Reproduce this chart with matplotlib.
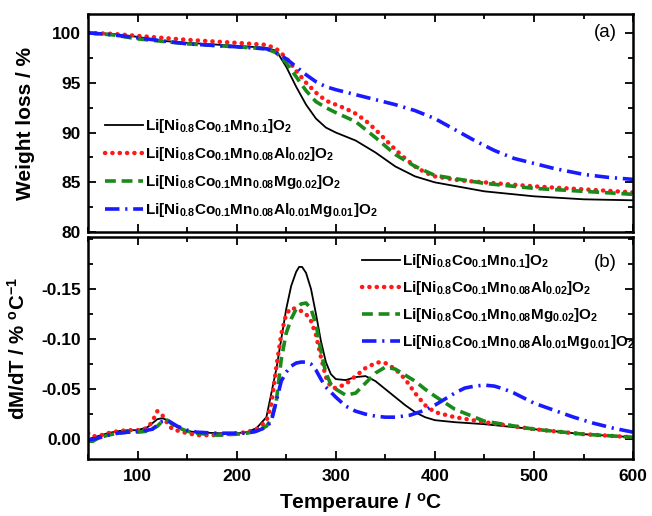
import matplotlib
matplotlib.use("Agg")
import matplotlib.pyplot as plt
from matplotlib.ticker import MultipleLocator, FormatStrFormatter

plt.rcParams['font.family'] = ['Liberation Sans', 'DejaVu Sans']
plt.rcParams['mathtext.fontset'] = 'custom'
plt.rcParams['mathtext.rm'] = 'Liberation Sans:bold'
plt.rcParams['mathtext.it'] = 'Liberation Sans:bold'
plt.rcParams['mathtext.bf'] = 'Liberation Sans:bold'

labels = [r'Li[Ni$_{0.8}$Co$_{0.1}$Mn$_{0.1}$]O$_2$',
          r'Li[Ni$_{0.8}$Co$_{0.1}$Mn$_{0.08}$Al$_{0.02}$]O$_2$',
          r'Li[Ni$_{0.8}$Co$_{0.1}$Mn$_{0.08}$Mg$_{0.02}$]O$_2$',
          r'Li[Ni$_{0.8}$Co$_{0.1}$Mn$_{0.08}$Al$_{0.01}$Mg$_{0.01}$]O$_2$']

# ---- TGA (weight loss) ----
tga_T_black = [50, 75, 100, 125, 150, 200, 230, 240, 250, 260, 270, 280, 290, 300, 320, 340, 360, 380, 400, 450, 500, 550, 600]
tga_black = [100.0, 99.9, 99.6, 99.2, 99.0, 98.7, 98.5, 98.2, 96.6, 94.6, 92.8, 91.4, 90.5, 90.0, 89.2, 88.0, 86.6, 85.6, 85.0, 84.1, 83.6, 83.3, 83.2]

tga_T_red = [50, 75, 100, 150, 200, 230, 240, 250, 260, 270, 280, 290, 300, 310, 320, 330, 340, 350, 360, 370, 380, 390, 400, 425, 450, 500, 550, 600]
tga_red = [100.0, 99.9, 99.7, 99.3, 99.0, 98.8, 98.4, 97.5, 96.2, 95.0, 94.0, 93.2, 92.8, 92.4, 91.9, 91.2, 90.3, 89.3, 88.3, 87.4, 86.6, 86.0, 85.6, 85.2, 85.0, 84.6, 84.3, 84.0]

tga_T_green = [50, 75, 100, 150, 200, 230, 240, 250, 260, 270, 280, 290, 300, 320, 340, 360, 380, 400, 450, 500, 550, 600]
tga_green = [100.0, 99.8, 99.4, 98.9, 98.6, 98.4, 98.0, 97.0, 95.6, 94.2, 93.1, 92.5, 92.0, 91.1, 89.5, 87.8, 86.6, 85.7, 84.9, 84.4, 84.1, 83.8]

tga_T_blue = [50, 75, 100, 150, 200, 230, 240, 250, 260, 270, 280, 290, 300, 320, 340, 360, 380, 400, 420, 440, 460, 480, 500, 520, 550, 575, 600]
tga_blue = [100.0, 99.8, 99.5, 98.9, 98.6, 98.4, 98.0, 97.4, 96.6, 95.8, 95.1, 94.6, 94.3, 93.8, 93.3, 92.8, 92.2, 91.4, 90.3, 89.2, 88.2, 87.4, 86.9, 86.4, 85.8, 85.5, 85.3]

# ---- DTG (dM/dT) ----
dtg_T_black = [50, 60, 70, 80, 90, 100, 110, 120, 125, 130, 140, 150, 160, 180, 200, 210, 220, 230, 240, 245, 250, 255, 260, 263, 266, 270, 275, 280, 285, 290, 295, 300, 310, 320, 330, 340, 350, 360, 370, 380, 390, 400, 420, 450, 500, 550, 600]
dtg_black = [0.000, -0.003, -0.006, -0.008, -0.009, -0.009, -0.012, -0.020, -0.021, -0.019, -0.012, -0.008, -0.007, -0.006, -0.006, -0.007, -0.011, -0.022, -0.070, -0.100, -0.130, -0.153, -0.167, -0.172, -0.172, -0.166, -0.150, -0.125, -0.098, -0.077, -0.065, -0.060, -0.059, -0.062, -0.063, -0.058, -0.050, -0.042, -0.034, -0.027, -0.022, -0.019, -0.017, -0.015, -0.010, -0.005, -0.002]

dtg_T_red = [50, 55, 60, 70, 80, 90, 100, 110, 115, 120, 125, 130, 135, 150, 160, 180, 200, 210, 220, 230, 235, 240, 245, 250, 255, 260, 265, 270, 275, 280, 285, 290, 295, 300, 310, 320, 330, 340, 345, 350, 360, 370, 380, 390, 400, 420, 450, 500, 550, 600]
dtg_red = [-0.006, -0.003, -0.003, -0.006, -0.008, -0.009, -0.009, -0.011, -0.018, -0.028, -0.024, -0.016, -0.010, -0.006, -0.004, -0.004, -0.006, -0.007, -0.010, -0.018, -0.035, -0.072, -0.105, -0.125, -0.131, -0.130, -0.128, -0.125, -0.118, -0.104, -0.082, -0.062, -0.052, -0.051, -0.055, -0.063, -0.071, -0.076, -0.077, -0.076, -0.070, -0.060, -0.046, -0.034, -0.027, -0.022, -0.017, -0.010, -0.005, -0.002]

dtg_T_green = [50, 55, 60, 70, 80, 90, 100, 110, 120, 125, 130, 135, 140, 150, 160, 180, 200, 210, 220, 230, 235, 240, 245, 250, 255, 260, 265, 270, 275, 280, 285, 290, 295, 300, 310, 320, 330, 340, 350, 360, 370, 380, 390, 400, 420, 450, 500, 550, 600]
dtg_green = [0.002, 0.002, -0.001, -0.004, -0.006, -0.007, -0.007, -0.008, -0.013, -0.018, -0.019, -0.015, -0.012, -0.008, -0.006, -0.004, -0.005, -0.006, -0.008, -0.013, -0.020, -0.038, -0.080, -0.106, -0.120, -0.130, -0.135, -0.136, -0.130, -0.115, -0.088, -0.066, -0.055, -0.050, -0.044, -0.046, -0.056, -0.066, -0.072, -0.070, -0.064, -0.058, -0.050, -0.043, -0.030, -0.018, -0.010, -0.005, -0.002]

dtg_T_blue = [50, 60, 70, 80, 90, 100, 110, 115, 120, 125, 130, 135, 140, 150, 160, 180, 200, 210, 220, 230, 235, 240, 245, 250, 255, 260, 265, 270, 275, 280, 285, 290, 300, 310, 320, 330, 340, 350, 360, 375, 390, 400, 410, 420, 430, 440, 450, 460, 470, 480, 490, 500, 520, 540, 560, 580, 600]
dtg_blue = [0.001, -0.001, -0.004, -0.006, -0.007, -0.008, -0.009, -0.010, -0.014, -0.018, -0.019, -0.016, -0.013, -0.009, -0.007, -0.006, -0.006, -0.006, -0.008, -0.012, -0.018, -0.038, -0.058, -0.067, -0.073, -0.076, -0.077, -0.077, -0.075, -0.069, -0.060, -0.052, -0.042, -0.033, -0.028, -0.025, -0.023, -0.022, -0.022, -0.024, -0.029, -0.034, -0.040, -0.046, -0.051, -0.053, -0.054, -0.053, -0.050, -0.046, -0.041, -0.036, -0.029, -0.022, -0.016, -0.011, -0.007]

x_ticks = [100, 200, 300, 400, 500, 600]
tga_ticks = [80, 85, 90, 95, 100]
dtg_ticks = [0.00, -0.05, -0.10, -0.15]

styles = [dict(color='black', lw=1.3, ls='-'),
          dict(color='#ff1a1a', lw=3.2, ls=(0, (0.05, 1.6)), dash_capstyle='round'),
          dict(color='#1a8a1a', lw=2.6, ls=(0, (3.0, 1.6))),
          dict(color='#1a1aff', lw=2.6, ls=(0, (4.0, 1.6, 0.6, 1.6)))]

fig = plt.figure(figsize=(6.52, 5.16), dpi=100)
ax1 = fig.add_axes([0.135, 0.550, 0.836, 0.423])
ax2 = fig.add_axes([0.135, 0.110, 0.836, 0.431])

tga = [(tga_T_black, tga_black), (tga_T_red, tga_red), (tga_T_green, tga_green), (tga_T_blue, tga_blue)]
dtg = [(dtg_T_black, dtg_black), (dtg_T_red, dtg_red), (dtg_T_green, dtg_green), (dtg_T_blue, dtg_blue)]

for (T, w), st, lab in zip(tga, styles, labels):
    ax1.plot(T, w, label=lab, **st)
for (T, d), st, lab in zip(dtg, styles, labels):
    ax2.plot(T, d, label=lab, **st)

for ax in (ax1, ax2):
    ax.set_xlim(50, 600)
    ax.set_xticks(x_ticks)
    ax.xaxis.set_minor_locator(MultipleLocator(50))
    ax.tick_params(which='both', direction='in', top=True, right=True, width=1.3)
    ax.tick_params(which='major', length=6, labelsize=12.5)
    ax.tick_params(axis='x', which='major', pad=7)
    ax.tick_params(axis='y', which='major', pad=5)
    ax.tick_params(which='minor', length=3.5)
    for sp in ax.spines.values():
        sp.set_linewidth(1.8)

ax1.set_ylim(80, 101.9)
ax1.set_yticks(tga_ticks)
ax1.yaxis.set_minor_locator(MultipleLocator(2.5))
ax1.tick_params(labelbottom=False)
ax1.set_ylabel('Weight loss / %', fontsize=15, fontweight='bold', labelpad=12)

ax2.set_ylim(0.02, -0.202)
ax2.set_yticks(dtg_ticks)
ax2.yaxis.set_major_formatter(FormatStrFormatter('%.2f'))
ax2.yaxis.set_minor_locator(MultipleLocator(0.025))
ax2.set_ylabel(r'dM/dT / % $^{\mathrm{o}}$C$^{\mathrm{-1}}$', fontsize=14.7, fontweight='bold', labelpad=9)
ax2.set_xlabel(r'Temperaure / $^{\mathrm{o}}$C', fontsize=15, fontweight='bold', labelpad=5)

for ax in (ax1, ax2):
    for lbl in ax.get_xticklabels() + ax.get_yticklabels():
        lbl.set_fontweight('bold')

ax1.text(0.949, 0.913, '(a)', transform=ax1.transAxes, ha='center', va='center', fontsize=13.5)
ax2.text(0.949, 0.883, '(b)', transform=ax2.transAxes, ha='center', va='center', fontsize=13.5)

leg_kw = dict(frameon=False, handlelength=2.5, handletextpad=0.12,
              borderpad=0, borderaxespad=0, prop=dict(weight='bold', size=11))
ax1.legend(loc='upper left', bbox_to_anchor=(0.031, 0.527), labelspacing=0.66, **leg_kw)
ax2.legend(loc='upper left', bbox_to_anchor=(0.503, 0.93), labelspacing=0.58, **leg_kw)

fig.savefig('out.png', dpi=100)
